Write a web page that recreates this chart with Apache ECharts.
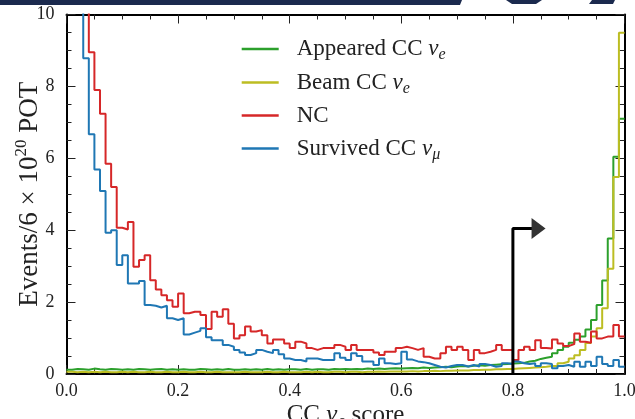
<!DOCTYPE html>
<html><head><meta charset="utf-8">
<script src="https://cdn.jsdelivr.net/npm/echarts@6/dist/echarts.min.js"></script>
<style>html,body{margin:0;padding:0;background:#fff}#c{width:635px;height:419px}</style>
</head><body><div id="c"></div>
<script>
const binWidth = 0.01;
const appeared = [
 0.12,0.14,0.13,0.12,0.15,0.13,0.12,0.14,0.13,0.12,
 0.13,0.12,0.14,0.13,0.12,0.13,0.14,0.12,0.13,0.12,
 0.13,0.12,0.12,0.14,0.13,0.12,0.13,0.12,0.14,0.12,
 0.12,0.13,0.12,0.13,0.12,0.14,0.12,0.13,0.12,0.13,
 0.13,0.12,0.14,0.12,0.13,0.13,0.12,0.14,0.13,0.14,
 0.13,0.14,0.13,0.15,0.14,0.15,0.14,0.15,0.16,0.15,
 0.16,0.17,0.16,0.18,0.17,0.18,0.19,0.2,0.19,0.21,
 0.22,0.21,0.23,0.24,0.23,0.25,0.26,0.27,0.28,0.29,
 0.3,0.31,0.35,0.37,0.42,0.45,0.48,0.58,0.67,0.76,
 0.87,0.95,1.04,1.24,1.5,1.92,2.6,3.77,6.04,7.1];
const beam = [
 0.06,0.05,0.06,0.05,0.06,0.05,0.06,0.05,0.05,0.06,
 0.05,0.06,0.05,0.05,0.06,0.05,0.05,0.06,0.05,0.05,
 0.06,0.05,0.05,0.06,0.05,0.05,0.06,0.05,0.05,0.05,
 0.05,0.06,0.05,0.05,0.05,0.06,0.05,0.05,0.06,0.05,
 0.05,0.05,0.06,0.05,0.06,0.05,0.05,0.06,0.06,0.05,
 0.06,0.06,0.05,0.06,0.06,0.07,0.06,0.07,0.07,0.07,
 0.07,0.08,0.07,0.08,0.08,0.09,0.08,0.09,0.09,0.1,
 0.1,0.1,0.11,0.11,0.12,0.12,0.13,0.13,0.14,0.14,
 0.15,0.16,0.17,0.18,0.19,0.2,0.22,0.22,0.3,0.34,
 0.43,0.52,0.67,0.86,1.04,1.27,1.83,2.93,5.48,9.49];
const nc = [
 40,28,18,12,8.95,7.9,7.24,5.85,5.2,4.07,
 4.02,4.23,2.98,3.17,3.3,2.61,2.35,2.19,2.05,1.87,
 2.24,1.69,1.73,1.73,1.64,1.25,1.73,1.59,1.8,1.4,
 0.99,1.08,1.32,1.18,1.22,1.08,0.85,0.96,0.96,0.85,
 0.72,0.9,0.85,0.72,0.67,0.72,0.72,0.72,0.81,0.76,
 0.67,0.81,0.67,0.67,0.67,0.6,0.53,0.62,0.62,0.72,
 0.76,0.72,0.67,0.72,0.48,0.43,0.43,0.58,0.76,0.67,
 0.76,0.67,0.39,0.67,0.58,0.62,0.67,0.81,0.67,0.67,
 0.39,0.67,0.76,0.67,0.94,0.72,0.71,0.96,0.85,0.78,
 0.83,1.13,0.9,0.87,1.18,0.99,1.04,1.04,1.36,1.04];
const survived = [
 30,20,13,8.78,6.67,5.69,5.09,3.93,4.0,3.03,
 3.3,2.52,2.52,2.59,1.92,1.9,1.85,1.9,1.55,1.5,
 1.55,1.1,1.15,1.2,1.27,1.02,0.94,0.94,0.81,0.76,
 0.67,0.6,0.53,0.58,0.67,0.62,0.58,0.67,0.55,0.43,
 0.39,0.39,0.35,0.43,0.43,0.39,0.39,0.39,0.58,0.45,
 0.39,0.58,0.5,0.35,0.35,0.25,0.43,0.3,0.28,0.3,
 0.62,0.4,0.35,0.33,0.3,0.25,0.2,0.18,0.22,0.25,
 0.25,0.21,0.25,0.21,0.28,0.25,0.2,0.22,0.3,0.28,
 0.35,0.3,0.28,0.3,0.22,0.3,0.28,0.16,0.22,0.25,
 0.2,0.34,0.2,0.34,0.22,0.48,0.28,0.22,0.39,0.2];
const seriesNames = ['Appeared CC νe','Beam CC νe','NC','Survived CC νμ'];
const legendRich = {
  'Appeared CC νe': '{t|Appeared CC }{nu|ν}{sub|e}',
  'Beam CC νe': '{t|Beam CC }{nu|ν}{sub|e}',
  'NC': '{t|NC}',
  'Survived CC νμ': '{t|Survived CC }{nu|ν}{sub|μ}'
};
const xTickLabels = ['0.0','0.2','0.4','0.6','0.8','1.0'];
const yTickLabels = ['0','2','4','6','8','10'];
const cutArrowPath = [[0.8,0],[0.8,4.05],[0.834,4.05]];
const cutArrowHead = [[0.846,4.05]];

const FONT = 'Liberation Serif';
const TXT = '#222';
const colors = ['#2ca02c','#bcbd22','#d62728','#1f77b4'];

function steps(vals){
  const d = vals.map((v,i)=>[+(i*binWidth).toFixed(2), v]);
  d.push([1.0, vals[vals.length-1]]);
  return d;
}
function richSet(fs){
  return {
    t:{fontFamily:FONT,fontSize:fs,color:TXT,lineHeight:fs+4},
    nu:{fontFamily:FONT,fontSize:fs,fontStyle:'italic',color:TXT,lineHeight:fs+4},
    sub:{fontFamily:FONT,fontSize:Math.round(fs*0.7),fontStyle:'italic',color:TXT,
         lineHeight:Math.round(fs*0.7),padding:[Math.round(fs*0.5),0,0,0]}
  };
}
const chart = echarts.init(document.getElementById('c'));
const tickCommon = {show:true,inside:true,length:9,lineStyle:{color:'#222',width:1}};
const minorCommon = {show:true,splitNumber:4,length:5,lineStyle:{color:'#222',width:1}};
const lineCommon = {show:true,onZero:false,lineStyle:{color:'#000',width:2}};
const allSeries = [appeared, beam, nc, survived].map((vals,k)=>({
  name: seriesNames[k], type:'line', step:'end', data: steps(vals),
  showSymbol:false, symbol:'none', clip:true, silent:true,
  lineStyle:{color:colors[k],width:2}, itemStyle:{color:colors[k]}, animation:false
}));
allSeries.push({
  name:'cut', type:'line', data:cutArrowPath, symbol:'none', silent:true, animation:false,
  lineStyle:{color:'#000',width:3}
});
allSeries.push({
  name:'cutHead', type:'scatter', data:cutArrowHead, symbol:'triangle', symbolRotate:-90,
  symbolSize:[21,14], itemStyle:{color:'#000'}, silent:true, animation:false
});
chart.setOption({
  animation:false,
  backgroundColor:'#fff',
  graphic:[
    {type:'rect', shape:{x:0,y:0,width:456,height:5}, style:{fill:'#1b2a4e'}},
    {type:'polygon', shape:{points:[[456,0],[462,0],[460,5],[456,5]]}, style:{fill:'#1b2a4e'}},
    {type:'polygon', shape:{points:[[506,0],[542,0],[536,4],[512,4]]}, style:{fill:'#1b2a4e'}},
    {type:'polygon', shape:{points:[[592,0],[615,0],[613,4],[589,4]]}, style:{fill:'#1b2a4e'}}
  ],
  grid:{left:66.5,right:10.5,top:14.5,bottom:45,containLabel:false,outerBoundsMode:'none'},
  legend:{
    data:seriesNames, left:241.7, top:35, orient:'vertical', itemWidth:37, itemHeight:2.5,
    itemGap:5.5, icon:'rect', selectedMode:false, padding:0,
    formatter:n=>legendRich[n],
    textStyle:{fontFamily:FONT,fontSize:23,lineHeight:26,color:TXT,padding:[0,0,0,13],rich:richSet(23)}
  },
  xAxis:[{
    type:'value', min:0, max:1, interval:0.2,
    axisLine:lineCommon, axisTick:tickCommon, minorTick:minorCommon,
    splitLine:{show:false},
    axisLabel:{margin:8,fontFamily:FONT,fontSize:18,color:TXT,formatter:(v)=>xTickLabels[Math.round(v/0.2)]},
    name:'{t|CC }{nu|ν}{sub|e}{t| score}', nameLocation:'middle', nameGap:27, nameMoveOverlap:false,
    nameTextStyle:{rich:richSet(25)}
  },{
    type:'value', min:0, max:1, interval:0.2, position:'top',
    axisLine:lineCommon, axisTick:tickCommon, minorTick:minorCommon,
    splitLine:{show:false}, axisLabel:{show:false}
  }],
  yAxis:[{
    type:'value', min:0, max:10, interval:2,
    axisLine:lineCommon, axisTick:tickCommon, minorTick:minorCommon,
    splitLine:{show:false},
    axisLabel:{margin:12,fontFamily:FONT,fontSize:18,color:TXT,formatter:(v)=>yTickLabels[Math.round(v/2)]},
    name:'{t|Events/6 × 10}{sup|20}{t| POT}', nameLocation:'middle', nameGap:21, nameMoveOverlap:false,
    nameTextStyle:{rich:{
      t:{fontFamily:FONT,fontSize:27,color:TXT,lineHeight:32},
      sup:{fontFamily:FONT,fontSize:17,color:TXT,lineHeight:17,padding:[0,0,15,0]}
    }}
  },{
    type:'value', min:0, max:10, interval:2, position:'right',
    axisLine:lineCommon, axisTick:tickCommon, minorTick:minorCommon,
    splitLine:{show:false}, axisLabel:{show:false}
  }],
  series:allSeries
});
</script></body></html>
